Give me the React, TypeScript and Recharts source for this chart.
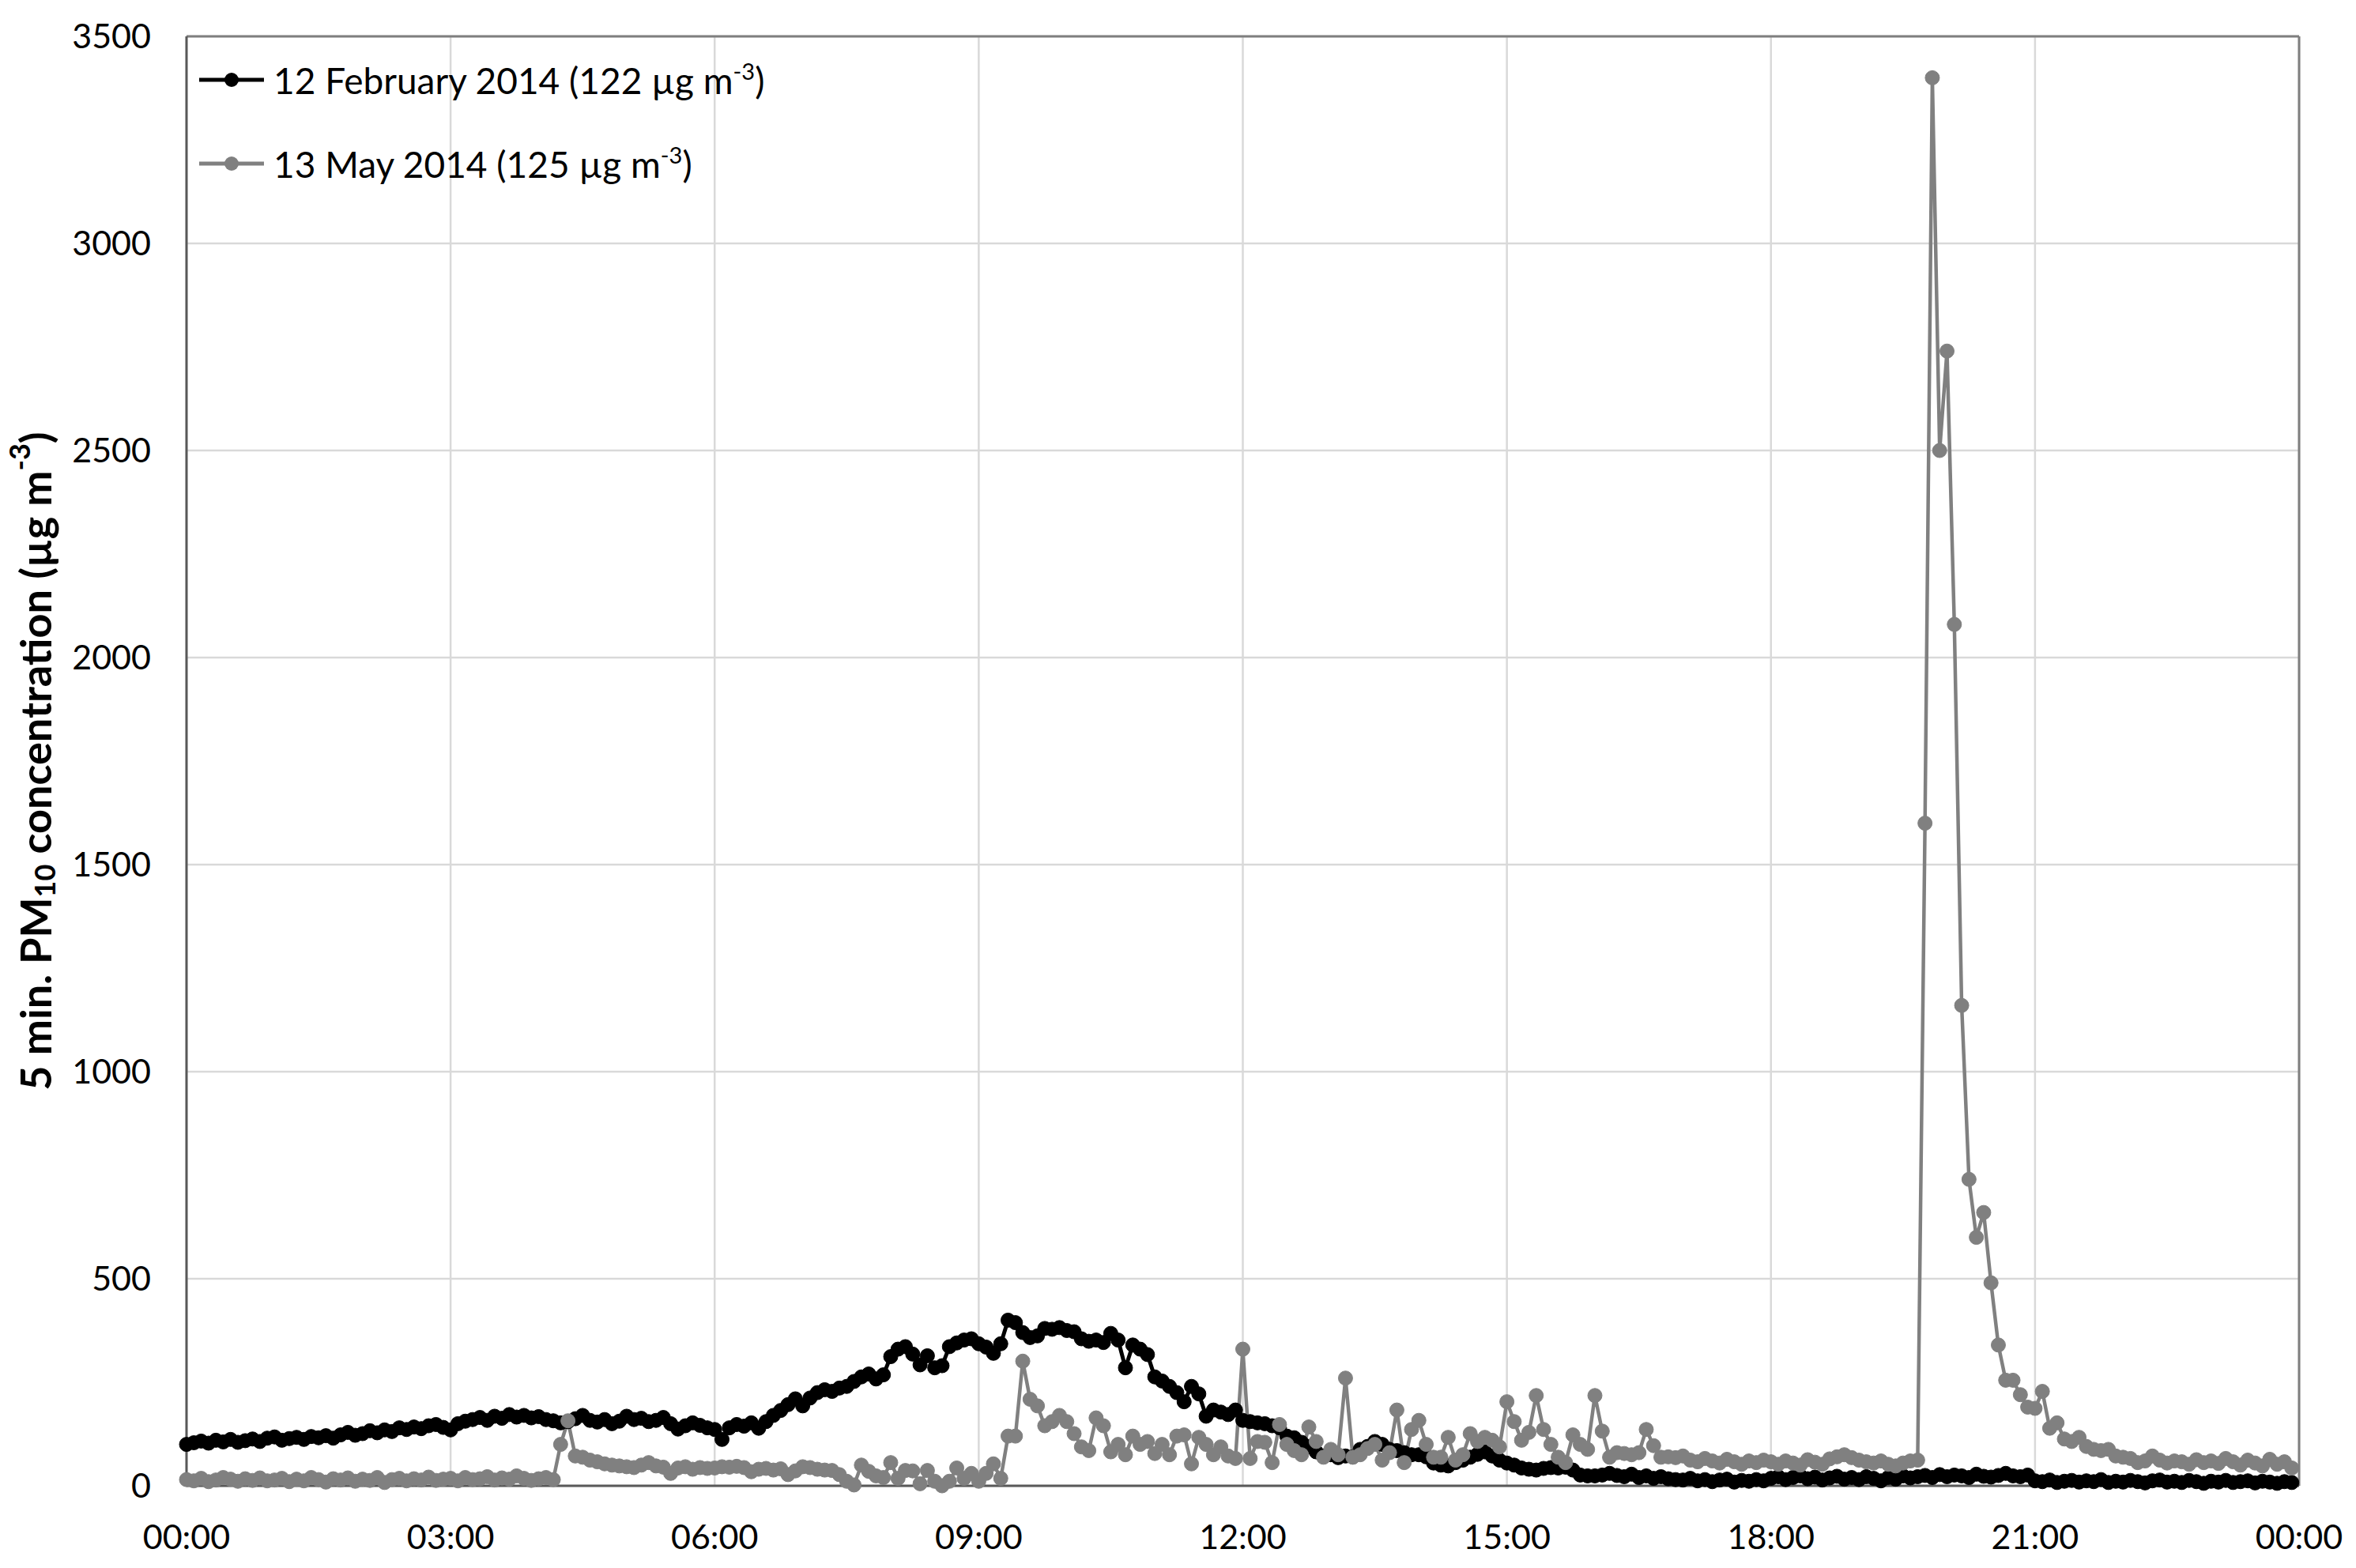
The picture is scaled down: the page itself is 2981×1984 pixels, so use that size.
// 5-min PM10 concentration, 12 Feb 2014 vs 13 May 2014

import React from 'react';
import {
  LineChart,
  Line,
  XAxis,
  YAxis,
  CartesianGrid,
  Legend,
  Label,
  ReferenceLine,
} from 'recharts';

// one row per hour, 12 readings (5 min each)
const feb12Values = [
  100, 104, 108, 103, 110, 106, 112, 105, 109, 113, 107, 115,
  118, 110, 114, 117, 112, 119, 116, 121, 115, 123, 129, 122,
  126, 133, 128, 135, 131, 140, 136, 142, 138, 145, 148, 141,
  135, 150, 156, 160, 165, 158, 168, 163, 172, 166, 170, 164,
  167, 160, 157, 152, 155, 162, 170, 158, 154, 160, 150, 156,
  168, 160, 163, 155, 158, 165, 150, 137, 145, 152, 146, 140,
  136, 112, 140, 148, 144, 152, 139, 155, 170, 182, 196, 210,
  193, 212, 225, 232, 228, 236, 240, 252, 263, 270, 258, 268,
  312, 330, 336, 318, 292, 314, 285, 290, 336, 345, 352, 355,
  343, 335, 320, 343, 400, 394, 370, 358, 362, 380, 378, 382,
  375, 372, 355, 349, 352, 346, 368, 352, 285, 340, 330, 317,
  263, 253, 240, 225, 203, 240, 222, 168, 183, 178, 172, 183,
  158, 155, 152, 150, 145, 140, 120, 116, 105, 95, 82, 72,
  75, 68, 72, 70, 88, 95, 107, 100, 88, 85, 80, 75,
  75, 70, 55, 50, 48, 56, 62, 69, 76, 82, 72, 62,
  55, 50, 43, 40, 38, 42, 44, 43, 45, 38, 26, 24,
  24, 26, 30, 25, 22, 28, 20, 24, 18, 22, 17, 15,
  14, 18, 12, 15, 10, 14, 16, 9, 13, 11, 15, 12,
  18, 22, 15, 20, 24, 17, 21, 14, 19, 23, 16, 20,
  15, 22, 18, 12, 20, 16, 24, 19, 22, 25, 20, 27,
  22, 26, 24, 20, 28, 23, 21, 25, 30, 24, 22, 26,
  12, 10, 14, 8, 11, 13, 9, 12, 10, 15, 8, 11,
  9, 13, 10, 7, 12, 14, 9, 11, 8, 13, 10, 6,
  11, 9, 13, 8, 10, 12, 7, 11, 9, 6, 10, 8,
];

const may13Values = [
  15, 12, 18, 10, 14, 20, 16, 11, 17, 13, 19, 12,
  14, 18, 10, 16, 12, 20, 15, 9, 17, 14, 19, 11,
  16, 13, 20, 8, 15, 18, 12, 17, 14, 21, 13, 16,
  18, 12, 20, 15, 17, 22, 14, 19, 16, 24, 18, 13,
  17, 20, 15, 100, 157, 72, 69, 62, 58, 53, 50, 48,
  46, 44, 50, 56, 48, 45, 30, 43, 46, 40, 44, 42,
  43, 46, 45, 47, 44, 34, 40, 42, 38, 41, 27, 36,
  46, 44, 40, 38, 37, 27, 11, 2, 50, 35, 24, 20,
  56, 18, 37, 36, 5, 37, 11, 0, 11, 43, 18, 30,
  11, 30, 53, 18, 120, 120, 301, 209, 193, 145, 155, 170,
  155, 126, 94, 85, 164, 145, 82, 100, 75, 120, 100, 107,
  78, 100, 75, 120, 123, 53, 117, 100, 75, 94, 72, 66,
  330, 66, 107, 105, 56, 148, 100, 85, 75, 142, 107, 69,
  88, 75, 260, 69, 75, 90, 100, 62, 80, 183, 56, 136,
  158, 100, 69, 69, 117, 62, 75, 126, 107, 117, 110, 94,
  203, 155, 110, 129, 218, 136, 100, 69, 56, 123, 100, 88,
  218, 132, 69, 80, 78, 75, 80, 136, 97, 69, 70, 68,
  72, 62, 58, 66, 60, 55, 64, 58, 52, 60, 56, 62,
  58, 52, 60, 55, 50, 63, 57, 52, 65, 70, 75, 68,
  62, 58, 55, 60, 52, 48, 55, 60, 62, 1600, 3400, 2500,
  2740, 2080, 1160, 740, 600, 660, 490, 340, 255, 255, 220, 190,
  187, 228, 139, 152, 113, 107, 117, 95, 88, 85, 88, 72,
  69, 66, 56, 60, 72, 62, 55, 60, 58, 52, 63, 56,
  60, 54, 66, 58, 50, 62, 55, 48, 64, 52, 58, 43,
];

const timeTicks = [0, 180, 360, 540, 720, 900, 1080, 1260, 1440];
const concTicks = [0, 500, 1000, 1500, 2000, 2500, 3000, 3500];

const series = [
  { key: 'feb12', label: '12 February 2014 (122 µg m', color: '#000000' },
  { key: 'may13', label: '13 May 2014 (125 µg m', color: '#808080' },
];

const data = feb12Values.map((v, i) => ({
  t: i * 5,
  feb12: v,
  may13: may13Values[i],
}));

const FONT = 'Lato, "Open Sans", sans-serif';

const formatTime = (m: number) => {
  const h = Math.floor(m / 60) % 24;
  const mm = m % 60;
  return `${String(h).padStart(2, '0')}:${String(mm).padStart(2, '0')}`;
};

const renderLegend = () => (
  <ul style={{ listStyle: 'none', margin: 0, padding: 0, fontFamily: FONT }}>
    {series.map((s) => (
      <li
        key={s.key}
        style={{ display: 'flex', alignItems: 'center', height: 106, fontSize: 46, color: '#000' }}
      >
        <svg width={96} height={24} style={{ marginRight: 0 }}>
          <line x1={2} y1={12} x2={84} y2={12} stroke={s.color} strokeWidth={5} />
          <circle cx={43} cy={12} r={9} fill={s.color} />
        </svg>
        <span>
          {s.label}
          <span style={{ fontSize: 29, position: 'relative', top: -18 }}>-3</span>)
        </span>
      </li>
    ))}
  </ul>
);

const YAxisTitle = (props: any) => {
  const vb = props.viewBox || { x: 0, y: 46, width: 236, height: 1834 };
  const cx = vb.x + 44;
  const cy = vb.y + vb.height / 2;
  return (
    <text
      x={cx}
      y={cy}
      transform={`rotate(-90, ${cx}, ${cy})`}
      textAnchor="middle"
      dominantBaseline="central"
      fontFamily={FONT}
      fontWeight={700}
      fontSize={54}
      fill="#000"
    >
      5 min. PM
      <tspan fontSize={36} dy={12}>10</tspan>
      <tspan dy={-12}> concentration (µg m</tspan>
      <tspan fontSize={36} dy={-20}>-3</tspan>
      <tspan dy={20}>)</tspan>
    </text>
  );
};

export default function App() {
  return (
    <div style={{ width: 2981, height: 1984, background: '#fff', fontFamily: FONT }}>
      <style>{'body{margin:0;background:#fff}'}</style>
      <LineChart
        width={2981}
        height={1984}
        data={data}
        margin={{ top: 46, right: 72, bottom: 0, left: 0 }}
      >
        <CartesianGrid stroke="#d9d9d9" strokeWidth={2.5} />
        <XAxis
          dataKey="t"
          type="number"
          domain={[0, 1440]}
          ticks={timeTicks}
          tickFormatter={formatTime}
          height={104}
          tickLine={false}
          tickSize={0}
          tickMargin={49}
          axisLine={{ stroke: '#595959', strokeWidth: 3 }}
          tick={{ fill: '#000', fontSize: 43, fontFamily: FONT }}
        />
        <YAxis
          type="number"
          domain={[0, 3500]}
          ticks={concTicks}
          width={236}
          tickLine={false}
          tickSize={0}
          tickMargin={45}
          axisLine={{ stroke: '#595959', strokeWidth: 3 }}
          tick={{ fill: '#000', fontSize: 43, fontFamily: FONT }}
        >
          <Label content={YAxisTitle} />
        </YAxis>
        <ReferenceLine y={3500} stroke="#7f7f7f" strokeWidth={3} />
        <ReferenceLine x={1440} stroke="#7f7f7f" strokeWidth={3} />
        <Legend
          layout="horizontal"
          verticalAlign="middle"
          align="center"
          content={renderLegend}
          wrapperStyle={{ left: 250, top: 48, width: 'auto', height: 'auto' }}
        />
        <Line
          dataKey="feb12"
          stroke="#000000"
          strokeWidth={5}
          dot={{ r: 9, fill: '#000000', stroke: '#000000', strokeWidth: 1 }}
          isAnimationActive={false}
        />
        <Line
          dataKey="may13"
          stroke="#808080"
          strokeWidth={4.5}
          dot={{ r: 9, fill: '#808080', stroke: '#808080', strokeWidth: 1 }}
          isAnimationActive={false}
        />
      </LineChart>
    </div>
  );
}
